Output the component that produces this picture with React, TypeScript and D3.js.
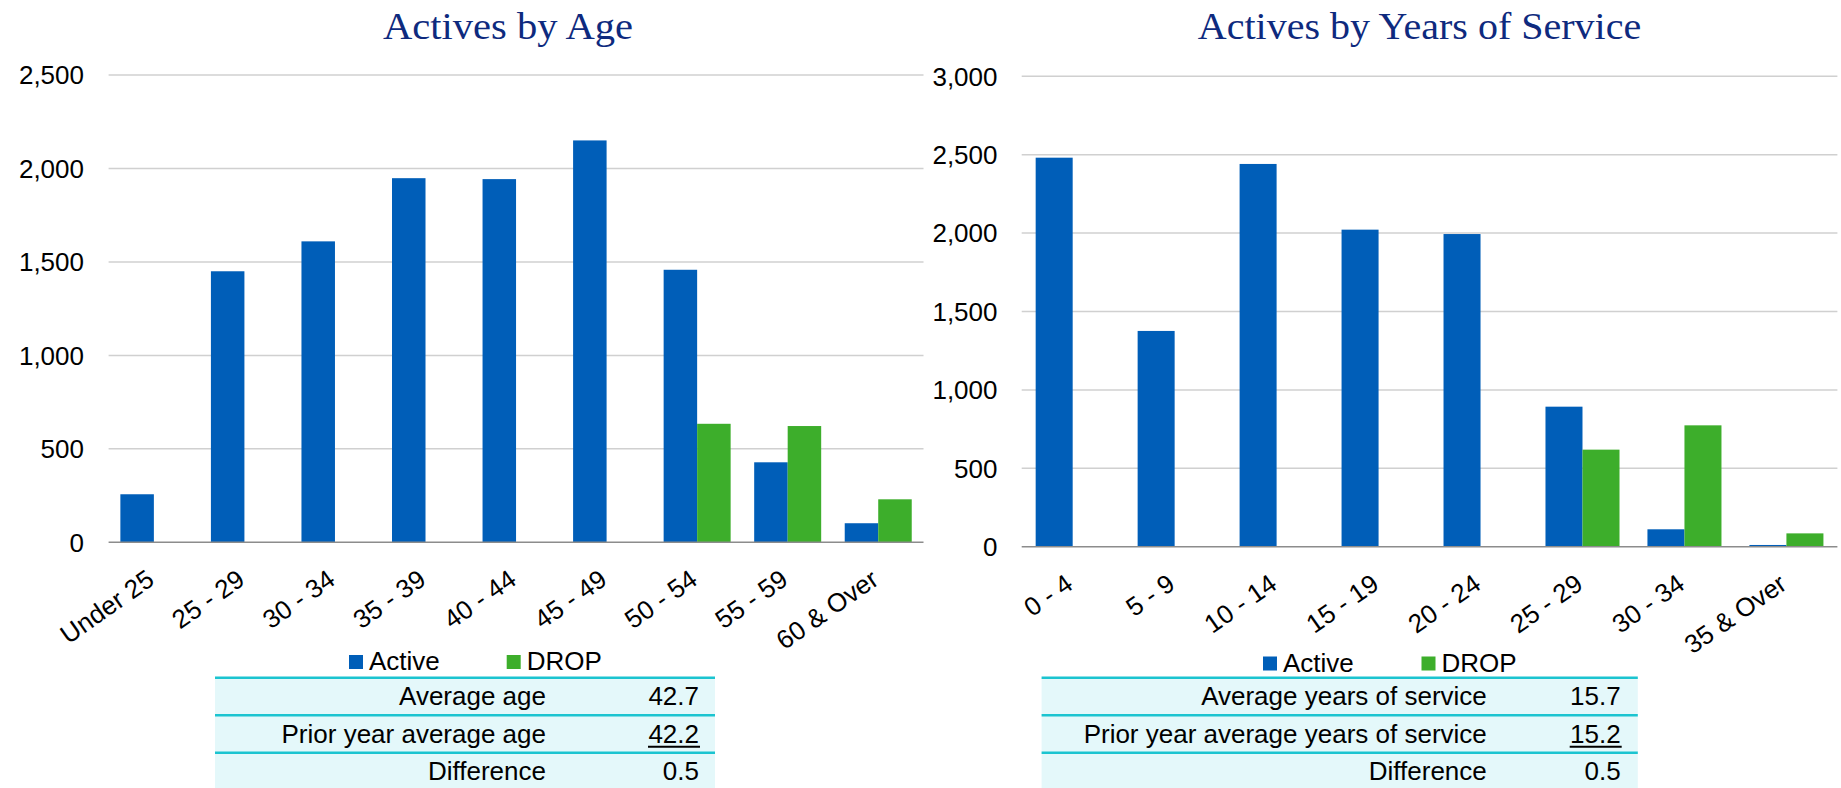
import React from "react";
import * as d3 from "d3";

const ageCategories = ["Under 25", "25 - 29", "30 - 34", "35 - 39", "40 - 44", "45 - 49", "50 - 54", "55 - 59", "60 & Over"];
const ageActive = [257, 1450, 1610, 1948, 1943, 2150, 1458, 428, 102];
const ageDrop = [0, 0, 0, 0, 0, 0, 634, 622, 230];
const ageTicks = [0, 500, 1000, 1500, 2000, 2500];

const serviceCategories = ["0 - 4", "5 - 9", "10 - 14", "15 - 19", "20 - 24", "25 - 29", "30 - 34", "35 & Over"];
const serviceActive = [2481, 1376, 2441, 2022, 1994, 893, 111, 11];
const serviceDrop = [0, 0, 0, 0, 0, 619, 774, 85];
const serviceTicks = [0, 500, 1000, 1500, 2000, 2500, 3000];

const seriesNames = ["Active", "DROP"];

const ageTableLabels = ["Average age", "Prior year average age", "Difference"];
const ageTableValues = ["42.7", "42.2", "0.5"];
const serviceTableLabels = ["Average years of service", "Prior year average years of service", "Difference"];
const serviceTableValues = ["15.7", "15.2", "0.5"];

const BLUE = "#005EB8";
const GREEN = "#3DAE2B";
const TITLE = "#0E2A7E";
const SANS = "'Liberation Sans', Arial, sans-serif";
const SERIF = "'Liberation Serif', 'Times New Roman', serif";
const TEAL = "#1BC4D0";
const CELL = "#E4F8FA";

type Cfg = {
  title: string;
  titleX: number;
  titleW: number;
  cats: string[];
  active: number[];
  drop: number[];
  ticks: number[];
  x0: number;
  x1: number;
  yTop: number;
  yBase: number;
  groupRatio: number;
  yLabelRight: number;
  legendX: [number, number];
  legendY: number;
  tableX0: number;
  tableX1: number;
  labelRight: number;
  valueRight: number;
  tLabels: string[];
  tValues: string[];
};

function Chart({ c }: { c: Cfg }) {
  const maxV = c.ticks[c.ticks.length - 1];
  const x = d3.scaleBand<string>().domain(c.cats).range([c.x0, c.x1]).padding(0);
  const bw = x.bandwidth();
  const groupW = bw * c.groupRatio;
  const inner = d3
    .scaleBand<string>()
    .domain(seriesNames)
    .range([(bw - groupW) / 2, (bw + groupW) / 2])
    .padding(0);
  const y = d3.scaleLinear().domain([0, maxV]).range([c.yBase, c.yTop]);
  const series = [c.active, c.drop];
  const colors = [BLUE, GREEN];
  const rowTops = [677.7, 715.2, 752.7];
  const rowH = 37.5;

  return (
    <g>
      <text
        x={c.titleX}
        y={38.5}
        textAnchor="middle"
        fontFamily={SERIF}
        fontSize={38}
        fill={TITLE}
        textLength={c.titleW}
        lengthAdjust="spacingAndGlyphs"
      >
        {c.title}
      </text>
      {c.ticks.map((t) => (
        <g key={t}>
          {t > 0 && (
            <line x1={c.x0} x2={c.x1} y1={y(t)} y2={y(t)} stroke="#D0D0D0" strokeWidth={1.5} />
          )}
          <text
            x={c.yLabelRight}
            y={y(t)}
            dy="0.36em"
            textAnchor="end"
            fontFamily={SANS}
            fontSize={26}
            fill="#000"
          >
            {d3.format(",")(t)}
          </text>
        </g>
      ))}
      {series.map((vals, si) =>
        vals.map((v, i) =>
          v > 0 ? (
            <rect
              key={`${si}-${i}`}
              x={(x(c.cats[i]) as number) + (inner(seriesNames[si]) as number)}
              y={y(v)}
              width={inner.bandwidth()}
              height={c.yBase - y(v)}
              fill={colors[si]}
            />
          ) : null
        )
      )}
      <line x1={c.x0} x2={c.x1} y1={c.yBase} y2={c.yBase} stroke="#8C8C8C" strokeWidth={1.6} />
      {c.cats.map((cat) => {
        const cx = (x(cat) as number) + bw / 2 + 2;
        const cy = c.yBase + 41;
        return (
          <text
            key={cat}
            transform={`translate(${cx},${cy}) rotate(-35)`}
            textAnchor="end"
            fontFamily={SANS}
            fontSize={26}
            fill="#000"
          >
            {cat}
          </text>
        );
      })}
      {seriesNames.map((s, i) => (
        <g key={s}>
          <rect x={c.legendX[i]} y={c.legendY} width={14} height={14} fill={colors[i]} />
          <text x={c.legendX[i] + 20} y={c.legendY + 15} fontFamily={SANS} fontSize={26} fill="#000">
            {s}
          </text>
        </g>
      ))}
      {rowTops.map((rt, i) => (
        <g key={i}>
          <rect x={c.tableX0} y={rt} width={c.tableX1 - c.tableX0} height={i === 2 ? 40 : rowH} fill={CELL} />
          <line x1={c.tableX0} x2={c.tableX1} y1={rt} y2={rt} stroke={TEAL} strokeWidth={2.5} />
          <text x={c.labelRight} y={rt + 27.5} textAnchor="end" fontFamily={SANS} fontSize={26} fill="#000">
            {c.tLabels[i]}
          </text>
          <text x={c.valueRight} y={rt + 27.5} textAnchor="end" fontFamily={SANS} fontSize={26} fill="#000">
            {c.tValues[i]}
          </text>
          {i === 1 && (
            <line
              x1={c.valueRight - 51}
              x2={c.valueRight + 1}
              y1={rt + 31.5}
              y2={rt + 31.5}
              stroke="#000"
              strokeWidth={2}
            />
          )}
        </g>
      ))}
    </g>
  );
}

export default function App() {
  const left: Cfg = {
    title: "Actives by Age",
    titleX: 508,
    titleW: 250,
    cats: ageCategories,
    active: ageActive,
    drop: ageDrop,
    ticks: ageTicks,
    x0: 108.6,
    x1: 923.5,
    yTop: 75,
    yBase: 542.3,
    groupRatio: 0.74,
    yLabelRight: 84,
    legendX: [349, 506.7],
    legendY: 655,
    tableX0: 215,
    tableX1: 715,
    labelRight: 546,
    valueRight: 699,
    tLabels: ageTableLabels,
    tValues: ageTableValues,
  };
  const right: Cfg = {
    title: "Actives by Years of Service",
    titleX: 1419.5,
    titleW: 443.5,
    cats: serviceCategories,
    active: serviceActive,
    drop: serviceDrop,
    ticks: serviceTicks,
    x0: 1021.7,
    x1: 1837.4,
    yTop: 76.3,
    yBase: 546.7,
    groupRatio: 0.726,
    yLabelRight: 997.5,
    legendX: [1263, 1421.5],
    legendY: 656.5,
    tableX0: 1041.6,
    tableX1: 1637.8,
    labelRight: 1486.8,
    valueRight: 1620.7,
    tLabels: serviceTableLabels,
    tValues: serviceTableValues,
  };
  return (
    <div style={{ position: "absolute", left: 0, top: 0 }}>
      <svg width={1841} height={788} style={{ display: "block", background: "#fff" }}>
        <Chart c={left} />
        <Chart c={right} />
      </svg>
    </div>
  );
}
